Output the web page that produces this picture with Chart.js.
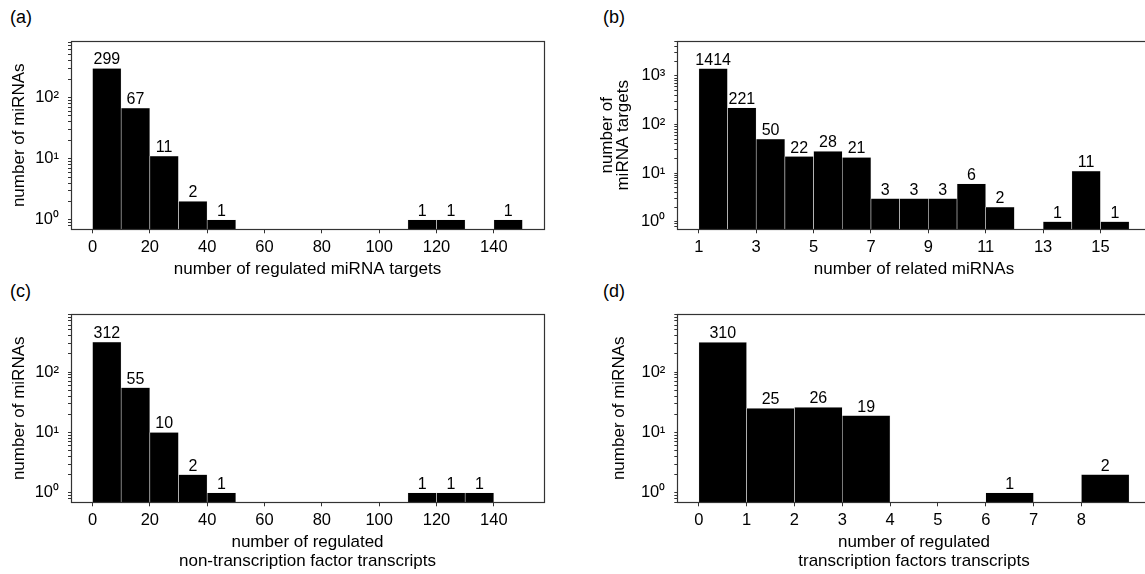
<!DOCTYPE html>
<html lang="en">
<head>
<meta charset="utf-8">
<title>miRNA regulation histograms</title>
<script src="https://cdn.jsdelivr.net/npm/chart.js@4.4.1/dist/chart.umd.min.js"></script>
<style>
  html, body { margin: 0; padding: 0; background: #fff; width: 1145px; height: 574px; overflow: hidden; }
  .panel { position: absolute; }
  .tag { position: absolute; font: 18px "Liberation Sans", Arial, sans-serif; line-height: 20px; color: #000; }
</style>
</head>
<body>
<div class="tag" style="left:10px;top:7px">(a)</div>
<div class="tag" style="left:603px;top:7px">(b)</div>
<div class="tag" style="left:10px;top:281px">(c)</div>
<div class="tag" style="left:603px;top:281px">(d)</div>
<canvas id="chartA" class="panel" style="left:0;top:0" width="572" height="287"></canvas>
<canvas id="chartB" class="panel" style="left:572px;top:0" width="588" height="287"></canvas>
<canvas id="chartC" class="panel" style="left:0;top:287px" width="572" height="287"></canvas>
<canvas id="chartD" class="panel" style="left:572px;top:287px" width="588" height="287"></canvas>
<script>
// (a) regulated miRNA targets per miRNA, bins of 10
const binsA = [0, 10, 20, 30, 40, 110, 120, 140];
const countsA = [299, 67, 11, 2, 1, 1, 1, 1];
const ticksA = [0, 20, 40, 60, 80, 100, 120, 140];

// (b) related miRNAs per target, bins of 1
const binsB = [1, 2, 3, 4, 5, 6, 7, 8, 9, 10, 11, 13, 14, 15];
const countsB = [1414, 221, 50, 22, 28, 21, 3, 3, 3, 6, 2, 1, 11, 1];
const ticksB = [1, 3, 5, 7, 9, 11, 13, 15];

// (c) regulated non-TF transcripts per miRNA, bins of 10
const binsC = [0, 10, 20, 30, 40, 110, 120, 130];
const countsC = [312, 55, 10, 2, 1, 1, 1, 1];
const ticksC = [0, 20, 40, 60, 80, 100, 120, 140];

// (d) regulated TF transcripts per miRNA, bins of 1
const binsD = [0, 1, 2, 3, 6, 8];
const countsD = [310, 25, 26, 19, 1, 2];
const ticksD = [0, 1, 2, 3, 4, 5, 6, 7, 8];

const FONT = '"Liberation Sans", Arial, sans-serif';
Chart.defaults.font.family = FONT;
Chart.defaults.font.size = 16;
Chart.defaults.color = '#000';

const SUP = ['\u2070', '\u00b9', '\u00b2', '\u00b3'];

/**
 * Log axis ticks: every 1..9 x 10^k inside [min, max], decades flagged major
 */
function logTicks(min, max) {
  const ticks = [];
  for (let e = Math.floor(Math.log10(min)); e <= Math.ceil(Math.log10(max)); e++) {
    for (let m = 1; m < 10; m++) {
      const v = m * Math.pow(10, e);
      if (v >= min && v <= max) ticks.push({ value: v, major: m === 1 });
    }
  }
  return ticks;
}

// dark frame around the plot area
const axesFrame = {
  id: 'axesFrame',
  afterDatasetsDraw(chart) {
    const { ctx, chartArea } = chart;
    const l = Math.round(chartArea.left) + 0.5;
    const t = Math.round(chartArea.top) + 0.5;
    const r = Math.round(chartArea.right) + 0.5;
    const b = Math.round(chartArea.bottom) + 0.5;
    ctx.save();
    ctx.strokeStyle = '#333';
    ctx.lineWidth = 1.2;
    ctx.strokeRect(l, t, r - l, b - t);
    ctx.restore();
  }
};

// count printed above each bar
const barValueLabels = {
  id: 'barValueLabels',
  afterDatasetsDraw(chart) {
    const { ctx } = chart;
    const meta = chart.getDatasetMeta(0);
    const data = chart.data.datasets[0].data;
    ctx.save();
    ctx.font = '16px ' + FONT;
    ctx.fillStyle = '#000';
    ctx.textAlign = 'center';
    ctx.textBaseline = 'alphabetic';
    meta.data.forEach((bar, i) => {
      ctx.fillText(String(data[i].y), bar.x, bar.y - 4);
    });
    ctx.restore();
  }
};

/**
 * Histogram panel with a log count axis
 * @param {string} canvasId canvas element
 * @param {Object} p bins, counts, axes and layout of the panel
 */
function buildHistogram(canvasId, p) {
  const points = p.bins.map((b, i) => ({ x: b + p.binWidth / 2, y: p.counts[i] }));

  return new Chart(document.getElementById(canvasId), {
    type: 'bar',
    data: {
      datasets: [{
        data: points,
        backgroundColor: '#000',
        borderColor: '#e4e4e4',
        borderWidth: { left: 0.6, right: 0.6, top: 0.4, bottom: 0 },
        borderSkipped: false,
        barPercentage: 1,
        categoryPercentage: 1
      }]
    },
    options: {
      responsive: false,
      animation: false,
      layout: { padding: { top: p.padTop, right: p.padRight, bottom: 0, left: 0 } },
      plugins: {
        legend: { display: false },
        tooltip: { enabled: false }
      },
      scales: {
        x: {
          type: 'linear',
          min: p.xMin,
          max: p.xMax,
          offset: false,
          afterBuildTicks: (scale) => { scale.ticks = p.xTicks.map(v => ({ value: v })); },
          afterFit: (scale) => { scale.height = p.xAxisHeight; },
          ticks: { autoSkip: false, maxRotation: 0, padding: 4, font: { size: 16.5 }, callback: (v) => String(v) },
          grid: { offset: false, drawOnChartArea: false, tickLength: 4, color: '#333' },
          border: { display: false },
          title: {
            display: true,
            text: p.xTitle,
            font: { size: 17, lineHeight: p.xTitleLine },
            padding: { top: 0, bottom: p.xTitlePad }
          }
        },
        y: {
          type: 'logarithmic',
          min: p.yMin,
          max: p.yMax,
          afterBuildTicks: (scale) => { scale.ticks = logTicks(p.yMin, p.yMax); },
          afterFit: (scale) => { scale.width = p.yAxisWidth; },
          ticks: {
            autoSkip: false,
            padding: 9,
            font: { size: 16.5 },
            callback: (v, i, ticks) => ticks[i].major ? '10' + SUP[Math.round(Math.log10(v))] : ''
          },
          grid: { drawOnChartArea: false, tickLength: 3, color: '#333' },
          border: { display: false },
          title: {
            display: true,
            text: p.yTitle,
            font: { size: 17, lineHeight: p.yTitleLine },
            padding: { top: p.yTitlePad, bottom: 0 }
          }
        }
      }
    },
    plugins: [axesFrame, barValueLabels]
  });
}

buildHistogram('chartA', {
  bins: binsA, counts: countsA, binWidth: 10,
  xMin: -7.5, xMax: 157.5, xTicks: ticksA,
  yMin: 0.713, yMax: 832,
  xTitle: 'number of regulated miRNA targets', xTitleLine: 1.2, xTitlePad: 7.8,
  yTitle: 'number of miRNAs', yTitleLine: 1.2, yTitlePad: 9,
  padTop: 41.3, padRight: 28, xAxisHeight: 57.7, yAxisWidth: 71
});

buildHistogram('chartB', {
  bins: binsB, counts: countsB, binWidth: 1,
  xMin: 0.25, xMax: 16.75, xTicks: ticksB,
  yMin: 0.718, yMax: 5160,
  xTitle: 'number of related miRNAs', xTitleLine: 1.2, xTitlePad: 7.8,
  yTitle: ['number of', 'miRNA targets'], yTitleLine: 0.95, yTitlePad: 27.4,
  padTop: 41.3, padRight: 9.3, xAxisHeight: 57.7, yAxisWidth: 105.3
});

buildHistogram('chartC', {
  bins: binsC, counts: countsC, binWidth: 10,
  xMin: -7.5, xMax: 157.5, xTicks: ticksC,
  yMin: 0.721, yMax: 902,
  xTitle: ['number of regulated', 'non-transcription factor transcripts'], xTitleLine: 1.08, xTitlePad: 3.7,
  yTitle: 'number of miRNAs', yTitleLine: 1.2, yTitlePad: 9,
  padTop: 27.3, padRight: 28, xAxisHeight: 71.7, yAxisWidth: 71
});

buildHistogram('chartD', {
  bins: binsD, counts: countsD, binWidth: 1,
  xMin: -0.45, xMax: 9.45, xTicks: ticksD,
  yMin: 0.697, yMax: 903,
  xTitle: ['number of regulated', 'transcription factors transcripts'], xTitleLine: 1.08, xTitlePad: 3.7,
  yTitle: 'number of miRNAs', yTitleLine: 1.2, yTitlePad: 36.8,
  padTop: 27.3, padRight: 9.3, xAxisHeight: 71.7, yAxisWidth: 105.3
});
</script>
</body>
</html>
